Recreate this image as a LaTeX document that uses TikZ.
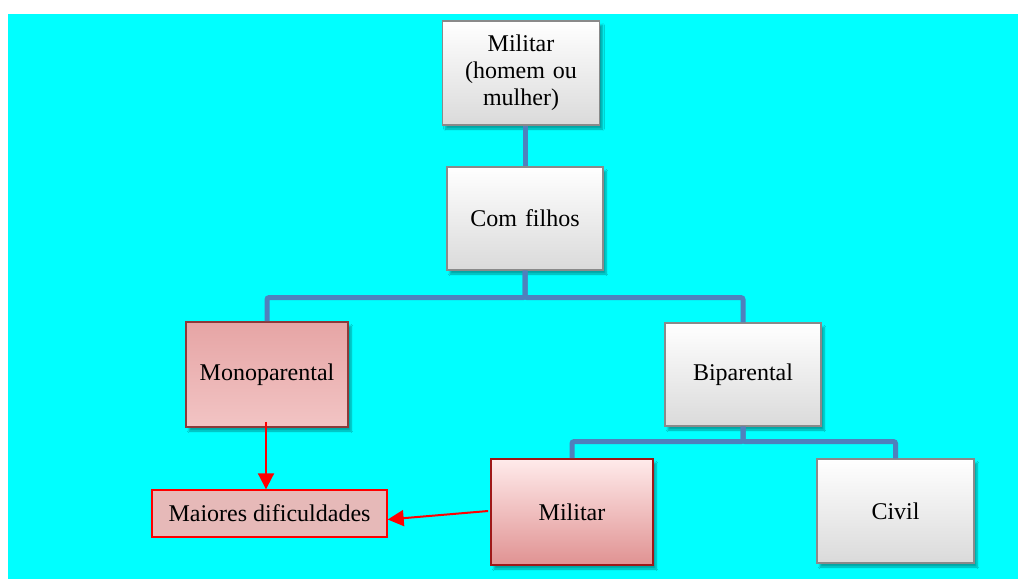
\documentclass[tikz,border=0pt]{standalone}
\usepackage{fontspec}
\setmainfont{Liberation Serif}
\usetikzlibrary{arrows.meta,shadows.blur}

\definecolor{fundo}{RGB}{0,255,255}
\definecolor{ligacao}{RGB}{79,129,189}
\definecolor{rosaborda}{RGB}{140,58,58}
\definecolor{rosatopo}{RGB}{230,165,165}
\definecolor{rosabase}{RGB}{242,196,196}
\definecolor{milborda}{RGB}{160,24,24}
\definecolor{milbase}{RGB}{224,146,146}
\definecolor{cinzabase}{RGB}{218,218,218}
\definecolor{cinzaborda}{RGB}{138,138,138}
\definecolor{dificfundo}{RGB}{230,185,184}

\tikzset{
  caixa/.style={rectangle, draw=cinzaborda, line width=1.2pt, top color=white,
    bottom color=cinzabase, align=center, text width=140pt,
    blur shadow={shadow xshift=3pt, shadow yshift=-4pt, shadow blur steps=6, shadow opacity=35},
    font=\fontsize{24}{27}\selectfont},
  caixarosa/.style={caixa, draw=rosaborda, line width=1.6pt, top color=rosatopo, bottom color=rosabase},
  caixamil/.style={caixa, draw=milborda, line width=1.8pt, top color=red!8!white, bottom color=milbase},
  caixadific/.style={rectangle, draw=red, line width=1.4pt, fill=dificfundo,
    font=\fontsize{24}{27}\selectfont},
  liga/.style={draw=ligacao, line width=5pt, rounded corners=2pt},
  seta/.style={draw=red, line width=2pt, -{Triangle[width=16pt,length=16pt]}}
}

\begin{document}
\begin{tikzpicture}[x=1pt,y=-1pt]
  \useasboundingbox (0,0) rectangle (1018,579);
  \fill[fundo] (8,14) rectangle (1018,579);

  % arvore
  \node[caixa, minimum width=157pt, minimum height=104pt] (topo) at (521,73) {Militar\\(homem ou\\mulher)};
  \node[caixa, minimum width=156pt, minimum height=103pt] (filhos) at (525,218.5) {Com filhos};
  \node[caixarosa, minimum width=162pt, minimum height=105pt] (mono) at (267,374.5) {Monoparental};
  \node[caixa, minimum width=156pt, minimum height=103pt] (bipar) at (743,374.5) {Biparental};
  \node[caixamil, minimum width=162pt, minimum height=106pt] (milb) at (572,512) {Militar};
  \node[caixa, minimum width=157pt, minimum height=104pt] (civil) at (895.5,511) {Civil};
  \node[caixadific, minimum width=235pt, minimum height=47pt] (dific) at (269.5,513.5) {Maiores dificuldades};

  % ligacoes
  \path[liga] (filhos.north |- topo.south) -- (filhos.north);
  \path[liga] (filhos.south) -- ++(0,27) -| (mono.north);
  \path[liga] (filhos.south) -- ++(0,27) -| (bipar.north);
  \path[liga] (bipar.south) -- ++(0,15) -| (milb.north);
  \path[liga] (bipar.south) -- ++(0,15) -| (civil.north);

  % setas
  \draw[seta] ([xshift=-1pt,yshift=6pt]mono.south) -- ([xshift=-1pt]mono.south |- dific.north);
  \draw[seta] ([xshift=-2pt,yshift=1pt]milb.west) -- ([yshift=-6pt]dific.east);
\end{tikzpicture}
\end{document}
